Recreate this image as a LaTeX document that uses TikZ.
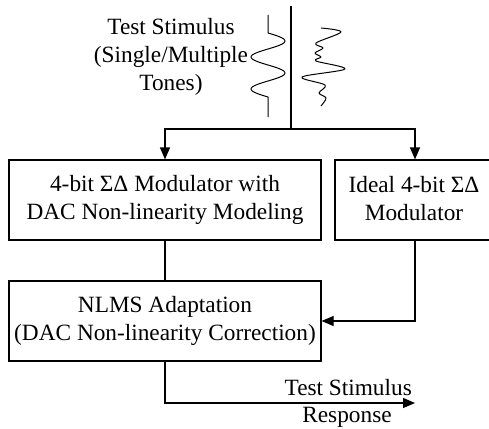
\documentclass[tikz,border=0pt]{standalone}
\usepackage{fontspec}
\setmainfont{Liberation Serif}
\usetikzlibrary{arrows.meta}
\begin{document}
\begin{tikzpicture}[x=1pt,y=-1pt,
  blk/.style={draw, line width=1.2pt, inner sep=0pt, font=\fontsize{23.3}{28}\selectfont, align=center},
  lbl/.style={font=\fontsize{23.3}{28}\selectfont, align=center, inner sep=0pt},
  conn/.style={line width=1.2pt},
  arr/.style={conn, -{Triangle[length=12pt,width=10pt]}},
  wave/.style={line width=1pt, line join=round}]
\useasboundingbox (0,0) rectangle (489,428);
% blocks
\node[blk, minimum width=312pt, minimum height=80pt] (mod) at (165,200)
  {4-bit ΣΔ Modulator with\\DAC Non-linearity Modeling};
\node[blk, minimum width=159pt, minimum height=80pt] (ideal) at (414.5,200) {};
\node[lbl] (idealtxt) at (414,199) {Ideal 4-bit ΣΔ\\Modulator};
\node[blk, minimum width=312pt, minimum height=80pt] (nlms) at (165,321)
  {NLMS Adaptation\\(DAC Non-linearity Correction)};
% stimulus label
\node[lbl] (stim) at (171,57) {Test Stimulus\\(Single/Multiple\\Tones)};
% input line
\coordinate (top) at (291,6);
\coordinate (junc) at (291,129);
\draw[conn] (top) -- (junc);
\draw[arr] (junc) -| (mod.north);
\draw[arr] (junc) -| ([xshift=0.5pt]ideal.north);
% connections
\draw[conn] (mod.south) -- (nlms.north);
\draw[arr] ([xshift=0.5pt]ideal.south) |- (nlms.east);
\coordinate (out) at (415,403);
\draw[arr] (nlms.south) |- (out);
\node[lbl, anchor=base east] (o1) at (412,395) {Test Stimulus};
\node[lbl, anchor=base] (o2) at (347,422) {Response};
% single tone waveform
\draw[wave] (268,15) -- (268,33)
  -- plot[variable=\t, domain=0:64, samples=129] ({268+17*sin(11.25*\t)}, {33+\t})
  -- (268,117);
% multi tone waveform
\draw[wave] plot[smooth, tension=0.55] coordinates {
  (321,28) (341,32) (316,43) (323,48) (315,53) (321,57) (316,61)
  (345,69) (302,77) (325,85) (319,93) (326,98) (321,106)};
\end{tikzpicture}
\end{document}
